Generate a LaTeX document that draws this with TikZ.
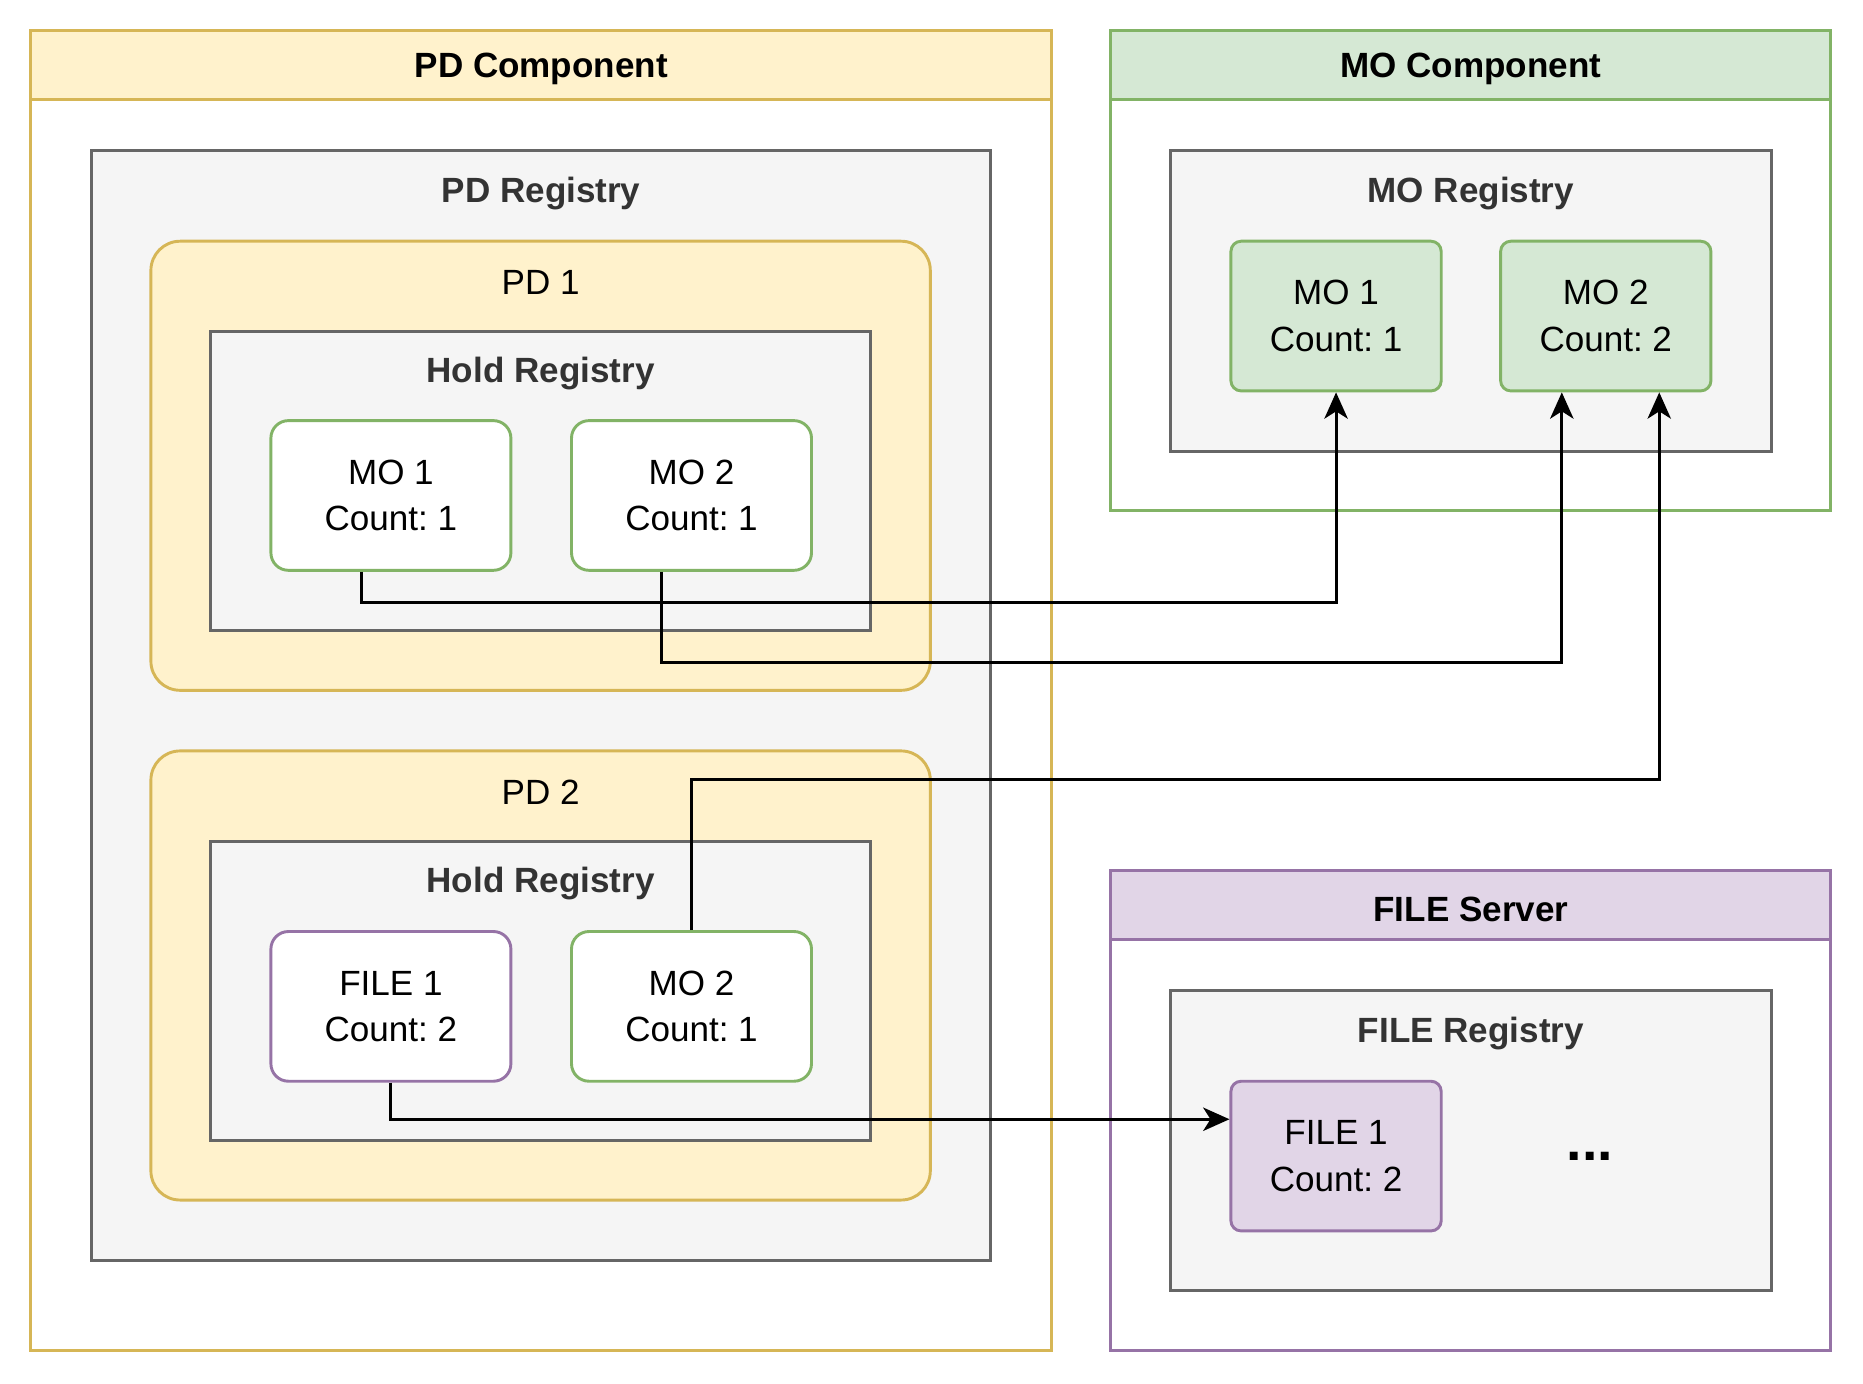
\documentclass[tikz,border=0pt]{standalone}
\usepackage{fontspec}
\setmainfont{Liberation Sans}
\usepackage{tikz}
\usetikzlibrary{
  arrows.meta,
  calc,
  fit,
  positioning
}
\definecolor{PdFill}{HTML}{FFF2CC}
\definecolor{PdLine}{HTML}{D6B656}
\definecolor{MoFill}{HTML}{D5E8D4}
\definecolor{MoLine}{HTML}{82B366}
\definecolor{FileFill}{HTML}{E1D5E7}
\definecolor{FileLine}{HTML}{9673A6}
\definecolor{RegFill}{HTML}{F5F5F5}
\definecolor{RegLine}{HTML}{666666}
\definecolor{RegText}{HTML}{333333}
\frenchspacing

\begin{document}
\begin{tikzpicture}[
  x=0.0143cm, y=-0.0143cm,
  every node/.style={font=\fontsize{12}{15.9}\selectfont,inner sep=0pt},
  frame/.style={draw=#1,line width=1pt,fill=white},
  head/.style={draw=#1,line width=1pt},
  headtext/.style={font=\bfseries\fontsize{12}{15.9}\selectfont},
  reg/.style={draw=RegLine,fill=RegFill,line width=1pt},
  regtitle/.style={text=RegText,font=\bfseries\fontsize{12}{15.9}\selectfont},
  pdbox/.style={draw=PdLine,fill=PdFill,line width=1pt,rounded corners=10pt},
  hold/.style={draw=#1,fill=white,line width=1pt,rounded corners=6pt},
  item/.style={line width=1pt,rounded corners=3.5pt},
  arrow/.style={-{Stealth[length=9pt,width=8pt,inset=2.5pt]},line width=1pt}
]
\useasboundingbox (0,0) rectangle (1568,1164);

% PD component
\node[frame=PdLine,fit={(26,84) (885,1137)}] (pdbody) {};
\node[head=PdLine,fill=PdFill,fit={(26,26) (885,84)}] (pdhead) {};
\node[headtext] at ($(pdhead)+(0,3)$) {PD Component};
\node[reg,fit={(77,127) (834,1061)}] (pdreg) {};
\node[regtitle] (pdregt) at ($(pdreg.north)+(0,37)$) {PD Registry};

\node[pdbox,fit={(127,203) (783,581)}] (pd1) {};
\node (pd1t) at ($(pd1.north)+(0,36)$) {PD 1};
\node[reg,fit={(177,279) (733,531)}] (hreg1) {};
\node[regtitle] (hreg1t) at ($(hreg1.north)+(0,37)$) {Hold Registry};
\node[hold=MoLine,fit={(228,354) (430,480)}] (hm1) {};
\node[align=center] at (hm1) {MO 1\\Count: 1};
\node[hold=MoLine,fit={(481,354) (683,480)}] (hm2) {};
\node[align=center] at (hm2) {MO 2\\Count: 1};

\node[pdbox,fit={(127,632) (783,1010)}] (pd2) {};
\node (pd2t) at ($(pd2.north)+(0,36)$) {PD 2};
\node[reg,fit={(177,708) (733,960)}] (hreg2) {};
\node[regtitle] (hreg2t) at ($(hreg2.north)+(0,37)$) {Hold Registry};
\node[hold=FileLine,fit={(228,784) (430,910)}] (hf1) {};
\node[align=center] at (hf1) {FILE 1\\Count: 2};
\node[hold=MoLine,fit={(481,784) (683,910)}] (pm2) {};
\node[align=center] at (pm2) {MO 2\\Count: 1};

% MO component
\node[frame=MoLine,fit={(935,84) (1541,430)}] (mobody) {};
\node[head=MoLine,fill=MoFill,fit={(935,26) (1541,84)}] (mohead) {};
\node[headtext] at ($(mohead)+(0,3)$) {MO Component};
\node[reg,fit={(985,127) (1491,380)}] (moreg) {};
\node[regtitle] (moregt) at ($(moreg.north)+(0,37)$) {MO Registry};
\node[item,draw=MoLine,fill=MoFill,fit={(1036,203) (1213,329)}] (mo1) {};
\node[align=center] at (mo1) {MO 1\\Count: 1};
\node[item,draw=MoLine,fill=MoFill,fit={(1263,203) (1440,329)}] (mo2) {};
\node[align=center] at (mo2) {MO 2\\Count: 2};

% FILE server
\node[frame=FileLine,fit={(935,791) (1541,1137)}] (fsbody) {};
\node[head=FileLine,fill=FileFill,fit={(935,733) (1541,791)}] (fshead) {};
\node[headtext] at ($(fshead)+(0,3)$) {FILE Server};
\node[reg,fit={(985,834) (1491,1086)}] (fsreg) {};
\node[regtitle] (fsregt) at ($(fsreg.north)+(0,37)$) {FILE Registry};
\node[item,draw=FileLine,fill=FileFill,fit={(1036,910) (1213,1036)}] (f1) {};
\node[align=center] at (f1) {FILE 1\\Count: 2};
\node[font=\bfseries\fontsize{19}{20}\selectfont] (more) at (1338,973) {...};

\draw[arrow] ($(hm1.south)+(-25,0)$) -- ++(0,26) -| (mo1.south);
\draw[arrow] ($(hm2.south)+(-25,0)$) -- ++(0,76) -| ($(mo2.south)+(-37,0)$);
\draw[arrow] (pm2.north) -- ++(0,-127) -| ($(mo2.south)+(45,0)$);
\draw[arrow] (hf1.south) |- ($(f1.west)+(0,-31)$);
\end{tikzpicture}
\end{document}
